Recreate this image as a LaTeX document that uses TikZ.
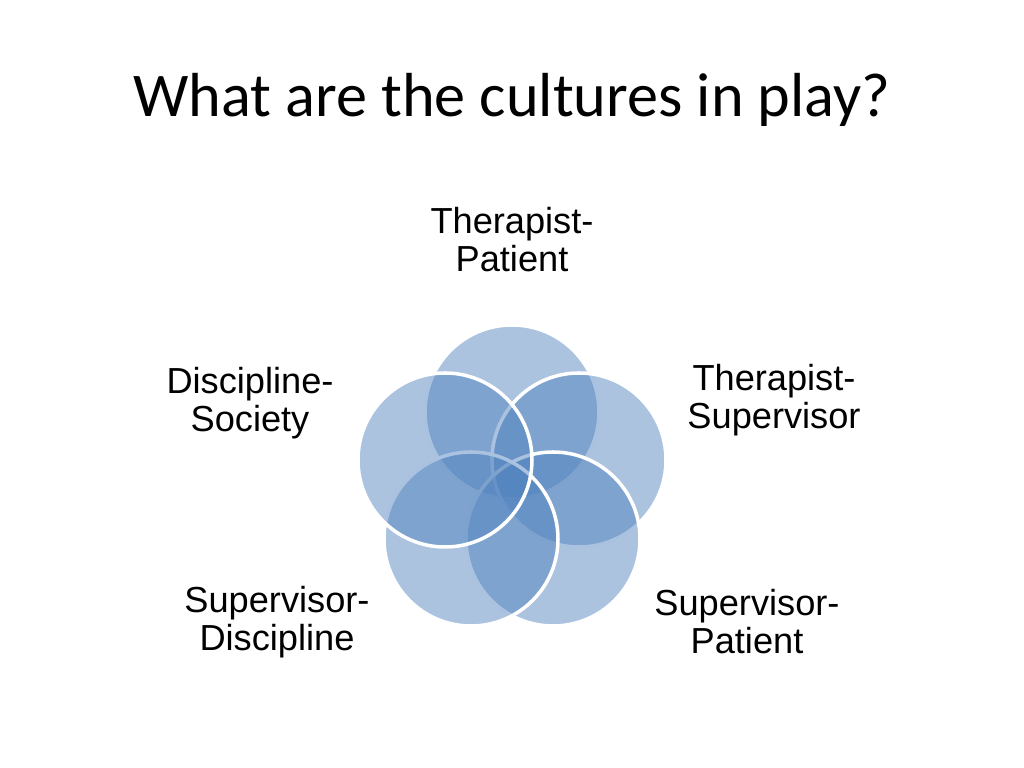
\documentclass[tikz,border=0pt]{standalone}
\usepackage{fontspec}
\setmainfont{Liberation Sans}
\newfontfamily\titlefont{Carlito}
\begin{document}
\begin{tikzpicture}[
    ring/.style={circle, draw=white, line width=1pt, minimum size=1.74cm, inner sep=0pt,
      fill={rgb,255:red,79;green,129;blue,189}, fill opacity=0.48},
    lbl/.style={align=center, font=\fontsize{10.3}{10.8}\selectfont}
]
\useasboundingbox (0,0) rectangle (10.24,7.68);

% title
\node[font=\titlefont\fontsize{17.7}{20}\selectfont] (title) at (5.12,6.68) {What are the cultures in play?};

% circles
\node[ring] (top) at (5.12,3.56) {};
\node[ring] (right) at (5.79,3.08) {};
\node[ring] (lowright) at (5.53,2.29) {};
\node[ring] (lowleft) at (4.71,2.29) {};
\node[ring] (left) at (4.45,3.08) {};

% labels
\node[lbl] (tp) at (5.12,5.28) {Therapist-\\Patient};
\node[lbl] (ts) at (7.74,3.68) {Therapist-\\Supervisor};
\node[lbl] (sp) at (7.47,1.46) {Supervisor-\\Patient};
\node[lbl] (sd) at (2.77,1.46) {Supervisor-\\Discipline};
\node[lbl] (ds) at (2.50,3.65) {Discipline-\\Society};
\end{tikzpicture}
\end{document}
